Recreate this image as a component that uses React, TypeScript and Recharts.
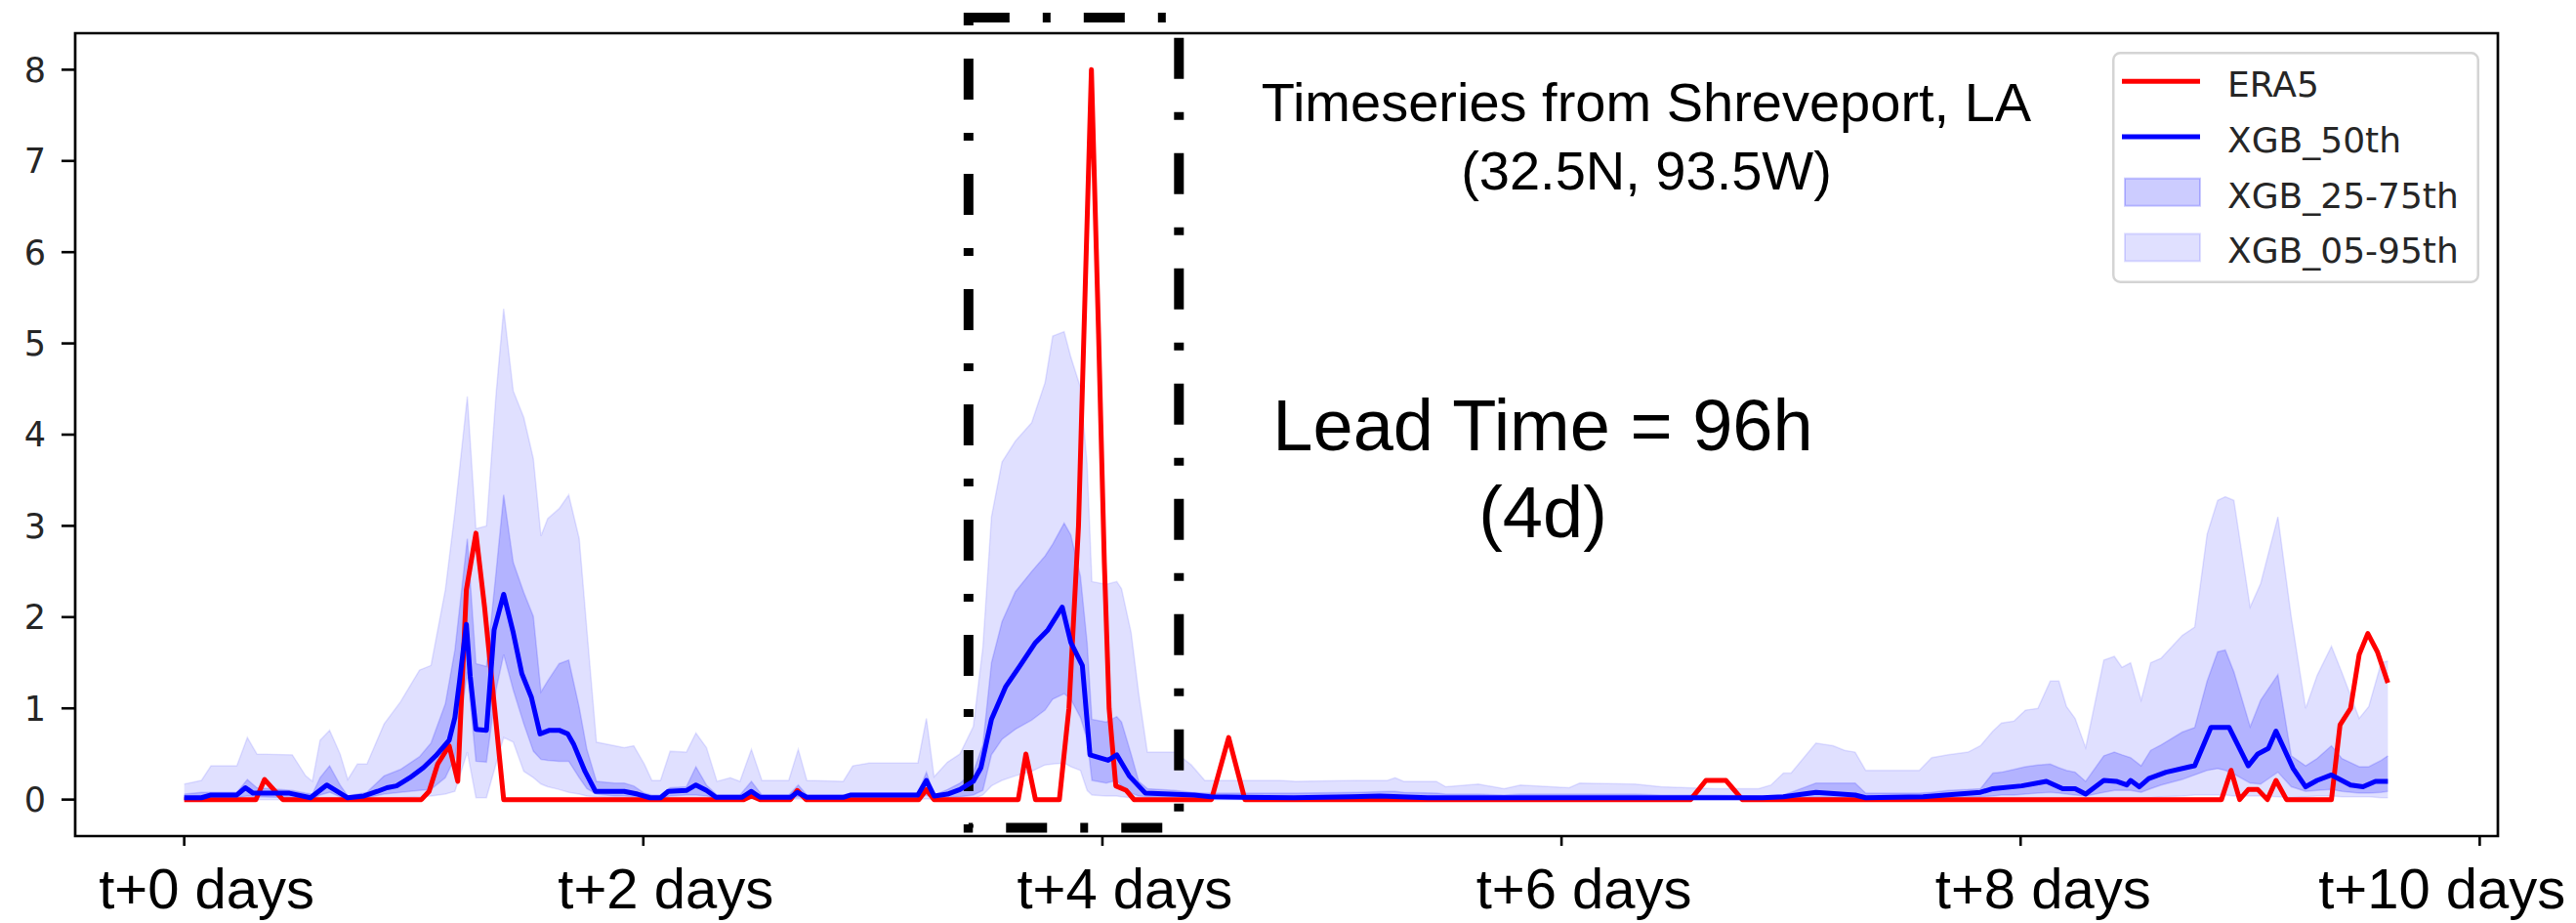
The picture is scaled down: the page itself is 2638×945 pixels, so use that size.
import {
  ComposedChart,
  Line,
  Area,
  XAxis,
  YAxis,
  ReferenceArea,
  Legend,
  Customized,
} from "recharts";

// hours after t+0
const era5Hours = [
  0, 7.5, 8.4, 10.3, 24.8, 25.6, 26.5, 27.7, 28.6, 29.5, 30.5, 31.4, 33.4, 58.5, 59.3, 60.2, 63.4, 64.1, 65,
  76.8, 77.6, 78.4, 87.2, 88.0, 89.0, 91.5, 92.5, 93.5, 94.2, 94.85, 95.6, 96.2, 96.7, 97.4, 98.5, 99.3,
  107.4, 109.2, 110.9, 157.5, 159.1, 161.2, 162.9, 213.0, 214.0, 214.9, 215.8, 216.8, 217.8, 218.7, 219.8,
  224.5, 225.4, 226.5, 227.4, 228.3, 229.3, 230.4,
];
const era5Values = [
  0, 0, 0.22, 0, 0, 0.09, 0.39, 0.59, 0.2, 2.3, 2.92, 2.11, 0, 0, 0.04, 0, 0, 0.1, 0,
  0, 0.11, 0, 0, 0.5, 0, 0, 1.0, 3.0, 5.6, 8.0, 5.1, 2.6, 1.0, 0.15, 0.1, 0,
  0, 0.68, 0, 0, 0.21, 0.21, 0, 0, 0.32, 0, 0.11, 0.11, 0, 0.21, 0,
  0, 0.82, 1.0, 1.59, 1.82, 1.62, 1.28,
];

const medianHours = [
  0, 1.8, 2.8, 5.5, 6.4, 7.2, 11, 13.2, 14.9, 17.1, 18.8, 20.2, 21.2, 22.2, 23.6, 25, 26.3, 27.7, 28.3, 28.8,
  29.5, 29.9, 30.5, 31.6, 32.4, 33.4, 34.4, 35.3, 36.3, 37.2, 38.2, 39.2, 40.1, 40.7, 41.9, 43, 46, 47.4, 48.7,
  49.8, 50.6, 52.5, 53.5, 54.6, 55.6, 58.3, 59.3, 60.2, 63.4, 64.1, 65.1, 68.9, 69.7, 76.7, 77.6, 78.4, 79.8,
  81.1, 82.5, 83.3, 84.4, 85.9, 87.4, 89, 90.3, 91.8, 92.7, 93.9, 94.7, 96.6, 97.5, 98.8, 100.5, 105.6, 107.3,
  116, 122, 125, 130, 165, 167.2, 170.6, 174.7, 175.8, 181.8, 187.8, 189.1, 192.1, 194.7, 196.4, 197.7, 198.8,
  200.7, 202, 203.1, 203.5, 204.4, 205.4, 207.2, 209.7, 210.2, 211.9, 213.8, 215.8, 216.8, 217.9, 218.7, 220.5,
  221.8, 223, 224.5, 226.5, 227.8, 229.1, 230.4,
];
const medianValues = [
  0.02, 0.02, 0.05, 0.05, 0.13, 0.07, 0.07, 0.02, 0.16, 0.02, 0.04, 0.09, 0.13, 0.15, 0.24, 0.35, 0.48, 0.65, 0.9, 1.31,
  1.92, 1.35, 0.77, 0.76, 1.86, 2.25, 1.83, 1.38, 1.12, 0.72, 0.76, 0.76, 0.72, 0.61, 0.31, 0.09, 0.09, 0.06, 0.02,
  0.02, 0.09, 0.1, 0.16, 0.1, 0.025, 0.025, 0.09, 0.025, 0.025, 0.08, 0.025, 0.025, 0.05, 0.05, 0.21, 0.04, 0.06,
  0.11, 0.2, 0.35, 0.88, 1.24, 1.47, 1.72, 1.86, 2.11, 1.72, 1.47, 0.49, 0.43, 0.49, 0.26, 0.07, 0.05, 0.03,
  0.02, 0.03, 0.04, 0.02, 0.02, 0.03, 0.08, 0.05, 0.02, 0.03, 0.08, 0.12, 0.15, 0.2, 0.12, 0.12, 0.06,
  0.21, 0.2, 0.16, 0.21, 0.14, 0.23, 0.3, 0.36, 0.37, 0.79, 0.79, 0.37, 0.5, 0.56, 0.75, 0.34,
  0.14, 0.21, 0.27, 0.16, 0.14, 0.2, 0.2,
];

const bandHours = [
  0, 1.8, 2.8, 5.5, 6.6, 7.6, 11.3, 12.7, 13.4, 14.2, 15.2, 16.3, 17.1, 18.1, 19.1, 20.9, 22.6, 24.6, 25.8, 27.3,
  28.3, 29.6, 30.5, 31.6, 32.6, 33.4, 34.4, 35.5, 36.5, 37.3, 38.0, 39.2, 40.2, 41.3, 42.1, 43.1, 45, 46, 47, 48.1,
  48.9, 49.8, 50.8, 52.5,
  53.5, 54.6, 55.7, 57.1, 58.1, 59.3, 60.4, 63.2, 64.2, 65.1, 68.9, 69.9, 71.6, 76.7, 77.6, 78.4, 79.8, 81.1, 82.5, 83.5,
  84.4, 85.5, 86.9, 88.6, 90.0, 90.8, 92.0, 92.7, 93.7, 94.4, 94.9, 96.4, 97.5, 98.0, 99.0, 99.8, 100.7, 103.6, 105.3,
  106.7, 110, 114.5,
  116.2, 122.7, 125.8, 126.6, 127.5, 130.9, 131.9, 135.3, 138, 139.7, 144.8, 145.9, 151.7, 154.4, 160, 164.6,
  165.9, 167.2, 168, 170.6, 172.4, 173.6, 174.7, 175.8, 181.4, 182.7, 184.4, 186.5, 187.8, 189.1, 190, 191.3, 192.5,
  193.8, 195.1, 196, 196.8, 197.7, 198.8, 200.7, 201.8, 202.6, 203.5, 204.6, 205.6, 206.7, 208.9, 210.2, 211.5, 212.6,
  213.4, 214.3, 216, 217.1, 218.9, 220.3, 221.8, 223, 224.5, 225.6, 227.4, 228.4, 229.7, 230.4,
];
const q95 = [
  0.17, 0.21, 0.37, 0.37, 0.68, 0.5, 0.49, 0.26, 0.2, 0.65, 0.76, 0.5, 0.22, 0.39, 0.39, 0.83, 1.07, 1.42, 1.47, 2.3,
  3.15, 4.42, 2.97, 3.0, 4.44, 5.38, 4.48, 4.19, 3.74, 2.89, 3.08, 3.19, 3.34, 2.86, 1.86, 0.63, 0.59, 0.57, 0.59, 0.39,
  0.21, 0.21, 0.53, 0.52,
  0.73, 0.57, 0.2, 0.24, 0.2, 0.55, 0.21, 0.21, 0.55, 0.21, 0.2, 0.37, 0.4, 0.4, 0.89, 0.25, 0.41, 0.5, 0.8, 1.67,
  3.1, 3.7, 3.93, 4.13, 4.57, 5.08, 5.13, 4.85, 4.52, 3.68, 2.39, 2.36, 2.39, 2.31, 1.83, 1.16, 0.52, 0.52, 0.38,
  0.21, 0.21, 0.21,
  0.2, 0.21, 0.21, 0.24, 0.2, 0.2, 0.14, 0.17, 0.12, 0.16, 0.13, 0.18, 0.17, 0.14, 0.12, 0.12,
  0.16, 0.29, 0.29, 0.62, 0.59, 0.54, 0.52, 0.32, 0.32, 0.46, 0.49, 0.52, 0.59, 0.75, 0.84, 0.86, 0.98,
  1.0, 1.3, 1.3, 1.02, 0.89, 0.57, 1.53, 1.57, 1.45, 1.5, 1.09, 1.5, 1.55, 1.8, 1.89, 2.91, 3.28,
  3.32, 3.28, 2.11, 2.37, 3.1, 2.0, 1.0, 1.36, 1.68, 1.39, 0.89, 1.02, 1.5, 1.52,
];
const q75 = [
  0.06, 0.08, 0.08, 0.08, 0.22, 0.13, 0.1, 0.07, 0.06, 0.24, 0.37, 0.16, 0.04, 0.06, 0.08, 0.26, 0.33, 0.47, 0.62, 1.05,
  1.64, 2.86, 1.49, 1.46, 2.49, 3.34, 2.6, 2.27, 2.01, 1.18, 1.3, 1.49, 1.53, 1.01, 0.55, 0.2, 0.18, 0.18, 0.15, 0.07,
  0.05, 0.05, 0.13, 0.14,
  0.36, 0.16, 0.05, 0.05, 0.05, 0.2, 0.05, 0.05, 0.16, 0.05, 0.05, 0.07, 0.07, 0.07, 0.3, 0.05, 0.11, 0.18, 0.3, 0.6,
  1.5, 1.95, 2.28, 2.5, 2.67, 2.8, 3.03, 2.9, 2.45, 1.72, 0.88, 0.85, 0.91, 0.85, 0.5, 0.2, 0.12, 0.1, 0.08,
  0.07, 0.07, 0.07,
  0.07, 0.08, 0.09, 0.09, 0.08, 0.07, 0.06, 0.06, 0.05, 0.06, 0.06, 0.06, 0.06, 0.05, 0.05, 0.04,
  0.03, 0.05, 0.08, 0.18, 0.18, 0.18, 0.18, 0.07, 0.07, 0.08, 0.1, 0.11, 0.12, 0.29, 0.3, 0.33, 0.36,
  0.38, 0.39, 0.35, 0.32, 0.3, 0.2, 0.48, 0.52, 0.49, 0.46, 0.37, 0.54, 0.6, 0.74, 0.79, 1.3, 1.62,
  1.64, 1.4, 0.8, 1.09, 1.37, 0.48, 0.37, 0.45, 0.59, 0.45, 0.36, 0.36, 0.43, 0.48,
];
const q25 = [
  0.0, 0.01, 0.02, 0.02, 0.04, 0.03, 0.02, 0.01, 0.0, 0.05, 0.08, 0.03, 0.0, 0.01, 0.02, 0.06, 0.08, 0.1, 0.11, 0.24,
  0.46, 1.4, 0.42, 0.41, 1.2, 1.59, 1.2, 0.83, 0.53, 0.44, 0.43, 0.42, 0.42, 0.24, 0.12, 0.06, 0.04, 0.04, 0.03, 0.02,
  0.01, 0.01, 0.04, 0.05,
  0.05, 0.04, 0.01, 0.01, 0.01, 0.03, 0.01, 0.01, 0.03, 0.01, 0.01, 0.02, 0.02, 0.02, 0.05, 0.01, 0.02, 0.03, 0.05, 0.1,
  0.49, 0.66, 0.77, 0.87, 0.98, 1.1, 1.16, 1.1, 0.9, 0.66, 0.21, 0.18, 0.21, 0.15, 0.07, 0.04, 0.03, 0.03, 0.03,
  0.02, 0.02, 0.02,
  0.01, 0.01, 0.01, 0.01, 0.01, 0.01, 0.01, 0.01, 0.01, 0.01, 0.01, 0.01, 0.01, 0.01, 0.01, 0.01,
  0, 0.01, 0.01, 0.02, 0.02, 0.02, 0.02, 0.01, 0.01, 0.02, 0.02, 0.03, 0.03, 0.04, 0.05, 0.05, 0.06,
  0.07, 0.08, 0.07, 0.06, 0.05, 0.04, 0.08, 0.1, 0.1, 0.1, 0.08, 0.12, 0.16, 0.22, 0.27, 0.32, 0.34,
  0.32, 0.28, 0.18, 0.17, 0.3, 0.14, 0.09, 0.1, 0.11, 0.09, 0.07, 0.07, 0.08, 0.09,
];
const q05 = [
  0, 0, 0, 0, 0.01, 0, 0, 0, 0, 0.01, 0.02, 0.01, 0, 0, 0, 0.01, 0.02, 0.03, 0.04, 0.06,
  0.09, 0.52, 0.02, 0.02, 0.39, 0.68, 0.63, 0.31, 0.24, 0.17, 0.14, 0.11, 0.08, 0.06, 0.04, 0.03, 0.02, 0.02, 0.01, 0.01,
  0, 0, 0.01, 0.01,
  0.01, 0.01, 0, 0, 0, 0.01, 0, 0, 0.01, 0, 0, 0, 0, 0, 0.01, 0, 0, 0.01, 0.01, 0.05,
  0.15, 0.21, 0.26, 0.31, 0.38, 0.39, 0.4, 0.36, 0.32, 0.1, 0.05, 0.04, 0.04, 0.03, 0.02, 0.01, 0.01, 0, 0,
  0, 0, 0,
  0, 0, 0, 0, 0, 0, 0, 0, 0, 0, 0, 0, 0, 0, 0, 0,
  0, 0, 0, 0, 0, 0, 0, 0, 0, 0, 0, 0, 0, 0, 0, 0, 0,
  0, 0, 0, 0, 0, 0, 0.01, 0.01, 0.01, 0.01, 0.01, 0.02, 0.03, 0.04, 0.05, 0.05, 0.05,
  0.05, 0.04, 0.04, 0.04, 0.03, 0.02, 0.03, 0.04, 0.04, 0.03, 0.03, 0.03, 0.02, 0.02,
];

const xTicks = [0, 48, 96, 144, 192, 240];
const xTickLabels = ["t+0 days", "t+2 days", "t+4 days", "t+6 days", "t+8 days", "t+10 days"];
const yTicks = [0, 1, 2, 3, 4, 5, 6, 7, 8];
const xDomain = [-11.4, 241.9];
const yDomain = [-0.4, 8.4];

// dash-dot window around the 96h lead time
const boxHours = [82, 104];
const boxValues = [-0.31, 8.57];

const legendItems = [
  { label: "ERA5", kind: "line", color: "#ff0000", opacity: 1 },
  { label: "XGB_50th", kind: "line", color: "#0000ff", opacity: 1 },
  { label: "XGB_25-75th", kind: "patch", color: "#0000ff", opacity: 0.2 },
  { label: "XGB_05-95th", kind: "patch", color: "#0000ff", opacity: 0.12 },
];

const era5Data = era5Hours.map((h, i) => ({ h, v: era5Values[i] }));
const medianData = medianHours.map((h, i) => ({ h, v: medianValues[i] }));
const bandData = bandHours.map((h, i) => ({
  h,
  outer: [q05[i], q95[i]],
  inner: [q25[i], q75[i]],
}));

const ARIAL = "'Liberation Sans', Arial, sans-serif";
const DEJAVU = "'DejaVu Sans', sans-serif";

function XTick(props: any) {
  const { x, y, payload } = props;
  const idx = xTicks.indexOf(payload.value);
  const last = idx === xTicks.length - 1;
  return (
    <text
      x={last ? x + 88 : x + 23}
      y={y + 62}
      textAnchor={last ? "end" : "middle"}
      fontFamily={ARIAL}
      fontSize={58}
      fill="#000"
    >
      {xTickLabels[idx]}
    </text>
  );
}

function LegendBox() {
  return (
    <svg width={376} height={237} style={{ display: "block" }}>
      <rect x={1.25} y={1.25} width={373.5} height={234.5} rx={7} fill="#fff" stroke="#d4d4d4" strokeWidth={2.5} />
      {legendItems.map((it, i) => {
        const cy = 30.3 + i * 56.7;
        return (
          <g key={it.label}>
            {it.kind === "line" ? (
              <line x1={10} x2={90} y1={cy} y2={cy} stroke={it.color} strokeWidth={5} />
            ) : (
              <rect
                x={13}
                y={cy - 14}
                width={77}
                height={28}
                fill={it.color}
                fillOpacity={it.opacity}
                stroke={it.color}
                strokeOpacity={it.opacity}
                strokeWidth={2}
              />
            )}
            <text x={118} y={cy + 16} fontFamily={DEJAVU} fontSize={36} fill="#262626">
              {it.label}
            </text>
          </g>
        );
      })}
    </svg>
  );
}

function Annotations() {
  return (
    <g fontFamily={ARIAL} fill="#000">
      <text x={1686} y={124} fontSize={56} textAnchor="middle">
        Timeseries from Shreveport, LA
      </text>
      <text x={1686} y={194} fontSize={56} textAnchor="middle">
        (32.5N, 93.5W)
      </text>
      <text x={1580} y={461} fontSize={74} textAnchor="middle">
        Lead Time = 96h
      </text>
      <text x={1580} y={550} fontSize={74} textAnchor="middle">
        (4d)
      </text>
    </g>
  );
}

export default function App() {
  return (
    <div style={{ position: "absolute", left: 0, top: 0, width: 2638, height: 945, background: "#fff" }}>
      <ComposedChart width={2638} height={945} margin={{ top: 34, right: 80, bottom: 0, left: 0 }}>
        <XAxis
          type="number"
          dataKey="h"
          domain={xDomain}
          ticks={xTicks}
          interval={0}
          allowDataOverflow
          height={89}
          tickSize={10}
          axisLine={false}
          tickLine={{ stroke: "#000", strokeWidth: 2.6 }}
          tick={XTick}
        />
        <YAxis
          type="number"
          domain={yDomain}
          ticks={yTicks}
          interval={0}
          allowDataOverflow
          width={77}
          tickSize={14}
          tickMargin={16}
          axisLine={false}
          tickLine={{ stroke: "#000", strokeWidth: 2.6 }}
          tick={{ fill: "#262626", fontSize: 35, fontFamily: DEJAVU }}
        />
        <Area
          data={bandData}
          dataKey="outer"
          type="linear"
          fill="#0000ff"
          fillOpacity={0.12}
          stroke="#0000ff"
          strokeOpacity={0.1}
          strokeWidth={1.5}
          dot={false}
          activeDot={false}
          isAnimationActive={false}
        />
        <Area
          data={bandData}
          dataKey="inner"
          type="linear"
          fill="#0000ff"
          fillOpacity={0.2}
          stroke="#0000ff"
          strokeOpacity={0.15}
          strokeWidth={1.5}
          dot={false}
          activeDot={false}
          isAnimationActive={false}
        />
        <Line
          data={era5Data}
          dataKey="v"
          type="linear"
          stroke="#ff0000"
          strokeWidth={5}
          strokeLinejoin="round"
          dot={false}
          activeDot={false}
          isAnimationActive={false}
        />
        <Line
          data={medianData}
          dataKey="v"
          type="linear"
          stroke="#0000ff"
          strokeWidth={5}
          strokeLinejoin="round"
          dot={false}
          activeDot={false}
          isAnimationActive={false}
        />
        <ReferenceArea
          x1={xDomain[0]}
          x2={xDomain[1]}
          y1={yDomain[0]}
          y2={yDomain[1]}
          ifOverflow="visible"
          fill="none"
          stroke="#000"
          strokeWidth={2.7}
        />
        <ReferenceArea
          x1={boxHours[0]}
          x2={boxHours[1]}
          y1={boxValues[0]}
          y2={boxValues[1]}
          ifOverflow="visible"
          fill="none"
          fillOpacity={0}
          stroke="#000"
          strokeWidth={10}
          strokeDasharray="42 34 8 34"
        />
        <Customized component={Annotations} />
        <Legend
          content={LegendBox}
          layout="horizontal"
          verticalAlign="middle"
          wrapperStyle={{ left: 2163, top: 53, width: 376, height: 237 }}
        />
      </ComposedChart>
    </div>
  );
}
